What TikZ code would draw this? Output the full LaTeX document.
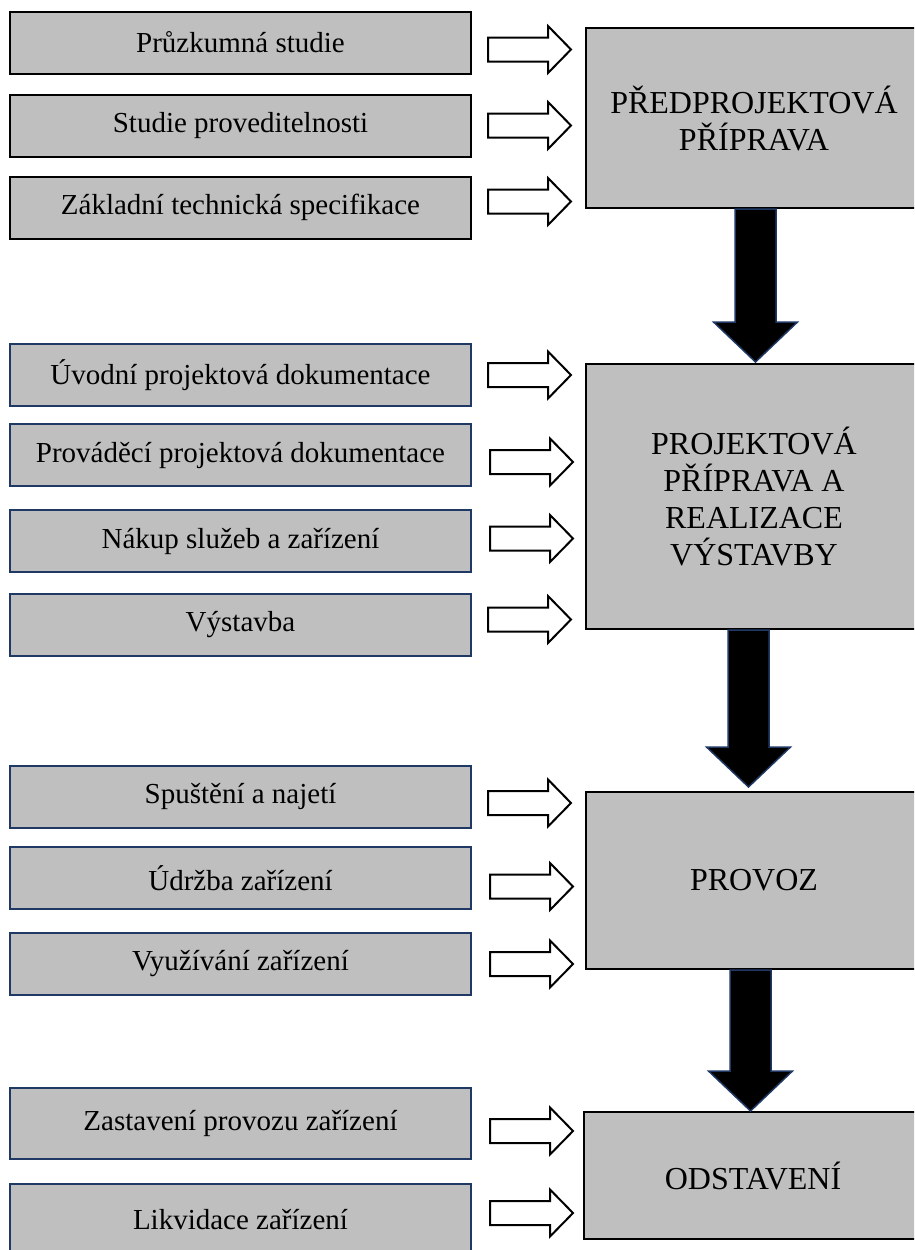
\documentclass[tikz,border=0pt]{standalone}
\usepackage{fontspec}
\setmainfont{Liberation Serif}
\usetikzlibrary{calc}
\definecolor{boxgray}{RGB}{191,191,191}
\definecolor{navy}{RGB}{31,56,100}

\begin{document}
\begin{tikzpicture}[x=1pt,y=-1pt,
    activity/.style={draw=navy, line width=2pt, fill=boxgray, minimum width=461pt,
      minimum height=62pt, inner sep=0pt, font=\fontsize{29}{33}\selectfont},
    phase/.style={draw=black, line width=2pt, fill=boxgray, minimum width=336pt,
      inner sep=0pt, align=center, font=\fontsize{32}{37}\selectfont},
    hollow arrow/.style={draw=black, line width=2pt, fill=white,
      to path={let \p1=(\tikztostart), \p2=(\tikztotarget) in
        (\x1,\y1+12pt) -- (\x2-23pt,\y1+12pt) -- (\x2-23pt,\y1+23.5pt) -- (\x2,\y1)
        -- (\x2-23pt,\y1-23.5pt) -- (\x2-23pt,\y1-12pt) -- (\x1,\y1-12pt) -- cycle}},
    down arrow/.style={draw=navy, line width=1.5pt, fill=black,
      to path={let \p1=(\tikztostart), \p2=(\tikztotarget) in
        (\x1-20.5pt,\y1) -- (\x1-20.5pt,\y2+40pt) -- (\x1-42pt,\y2+40pt) -- (\x1,\y2)
        -- (\x1+42pt,\y2+40pt) -- (\x1+20.5pt,\y2+40pt) -- (\x1+20.5pt,\y1) -- cycle}}]
      \useasboundingbox (0,0) rectangle (914,1250);
      \clip (0,0) rectangle (914,1250);

      \node[activity, draw=black] (l1) at (240.5,42.5) {Průzkumná studie};
      \node[activity, draw=black] (l2) at (240.5,125.5) {Studie proveditelnosti};
      \node[activity, draw=black] (l3) at (240.5,207.5) {Základní technická specifikace};
      \node[phase, minimum height=180pt] (pre) at (754,118) {PŘEDPROJEKTOVÁ\\PŘÍPRAVA};

      \node[activity] (l4) at (240.5,375) {Úvodní projektová dokumentace};
      \node[activity] (l5) at (240.5,455) {Prováděcí projektová dokumentace};
      \node[activity] (l6) at (240.5,541) {Nákup služeb a zařízení};
      \node[activity] (l7) at (240.5,625) {Výstavba};
      \node[phase, minimum height=265pt] (real) at (754,496.5) {PROJEKTOVÁ\\PŘÍPRAVA A\\REALIZACE\\VÝSTAVBY};

      \node[activity] (l8) at (240.5,796.5) {Spuštění a najetí};
      \node[activity] (l9) at (240.5,878) {Údržba zařízení};
      \node[activity] (l10) at (240.5,964) {Využívání zařízení};
      \node[phase, minimum height=177pt] (prov) at (754,880.5) {PROVOZ};

      \node[activity, minimum height=71pt] (l11) at (240.5,1123.5) {Zastavení provozu zařízení};
      \node[activity, minimum height=71pt] (l12) at (240.5,1219.5) {Likvidace zařízení};
      \node[phase, minimum width=338pt, minimum height=127pt] (odst) at (753,1175.5) {ODSTAVENÍ};

      \path[hollow arrow] ([xshift=16pt,yshift=-7pt]l1.east) to ([xshift=-14pt]pre.west);
      \path[hollow arrow] ([xshift=16pt]l2.east) to ([xshift=-14pt]pre.west);
      \path[hollow arrow] ([xshift=16pt,yshift=6pt]l3.east) to ([xshift=-14pt]pre.west);

      \path[hollow arrow] ([xshift=16pt]l4.east) to ([xshift=-14pt]real.west);
      \path[hollow arrow] ([xshift=18pt,yshift=-7pt]l5.east) to ([xshift=-12pt]real.west);
      \path[hollow arrow] ([xshift=18pt,yshift=2.5pt]l6.east) to ([xshift=-12pt]real.west);
      \path[hollow arrow] ([xshift=16pt,yshift=5.5pt]l7.east) to ([xshift=-14pt]real.west);

      \path[hollow arrow] ([xshift=16pt,yshift=-6.5pt]l8.east) to ([xshift=-14pt]prov.west);
      \path[hollow arrow] ([xshift=18pt,yshift=-8.5pt]l9.east) to ([xshift=-12pt]prov.west);
      \path[hollow arrow] ([xshift=18pt]l10.east) to ([xshift=-12pt]prov.west);

      \path[hollow arrow] ([xshift=18pt,yshift=-7.5pt]l11.east) to ([xshift=-10pt]odst.west);
      \path[hollow arrow] ([xshift=18pt,yshift=6.5pt]l12.east) to ([xshift=-10pt]odst.west);

      \path[down arrow] ([xshift=1.5pt]pre.south) to ([xshift=1.5pt,yshift=1pt]real.north);
      \path[down arrow] ([xshift=-5.5pt]real.south) to ([xshift=-5.5pt,yshift=4pt]prov.north);
      \path[down arrow] ([xshift=-3.5pt]prov.south) to ([xshift=-3.5pt]odst.north);
    \end{tikzpicture}
\end{document}
